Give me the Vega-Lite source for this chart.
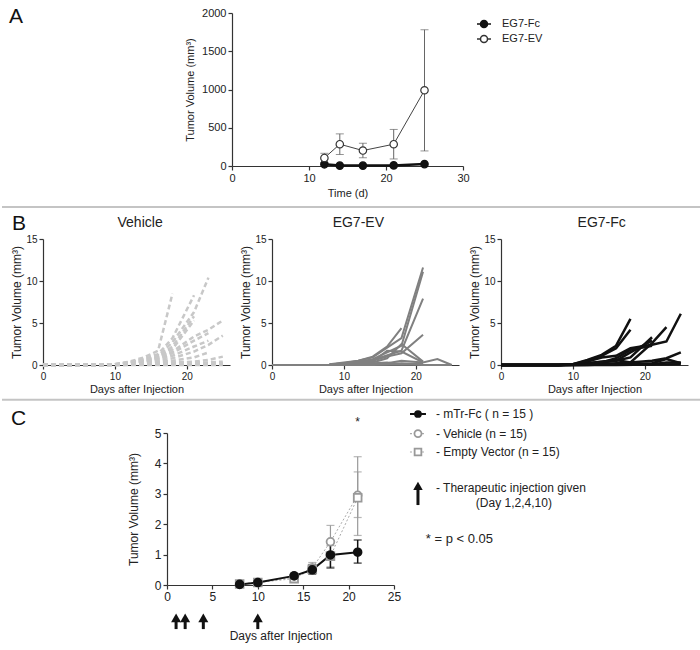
{
 "$schema": "https://vega.github.io/schema/vega-lite/v6.json",
 "padding": {"left": 0, "right": 0, "top": 6, "bottom": 2},
 "spacing": 4,
 "resolve": {"scale": {"fill": "independent", "stroke": "independent", "shape": "independent"}, "legend": {"fill": "independent", "stroke": "independent", "shape": "independent"}},
 "datasets": {
  "none": [],
  "a": [
   {"group":"EG7-Fc","day":12,"mean":22},{"group":"EG7-Fc","day":14,"mean":5},{"group":"EG7-Fc","day":17,"mean":5},{"group":"EG7-Fc","day":21,"mean":8},{"group":"EG7-Fc","day":25,"mean":25},
   {"group":"EG7-EV","day":12,"mean":105,"lo":45,"hi":166},{"group":"EG7-EV","day":14,"mean":285,"lo":150,"hi":420},{"group":"EG7-EV","day":17,"mean":202,"lo":108,"hi":298},{"group":"EG7-EV","day":21,"mean":285,"lo":92,"hi":478},{"group":"EG7-EV","day":25,"mean":990,"lo":197,"hi":1781}
  ],
  "veh": [
   {"m":"V1","day":0,"vol":0},{"m":"V1","day":8,"vol":0},{"m":"V1","day":10,"vol":0.1},{"m":"V1","day":12,"vol":0.4},{"m":"V1","day":14,"vol":0.9},{"m":"V1","day":16,"vol":1.7},{"m":"V1","day":18,"vol":8.5},
   {"m":"V2","day":0,"vol":0},{"m":"V2","day":8,"vol":0},{"m":"V2","day":10,"vol":0.1},{"m":"V2","day":12,"vol":0.3},{"m":"V2","day":14,"vol":0.7},{"m":"V2","day":16,"vol":1.3},{"m":"V2","day":18,"vol":3.2},{"m":"V2","day":21,"vol":8.3},
   {"m":"V3","day":0,"vol":0},{"m":"V3","day":8,"vol":0},{"m":"V3","day":10,"vol":0.1},{"m":"V3","day":12,"vol":0.3},{"m":"V3","day":14,"vol":0.6},{"m":"V3","day":16,"vol":1.1},{"m":"V3","day":18,"vol":2.7},{"m":"V3","day":21,"vol":6.3},{"m":"V3","day":23,"vol":10.4},
   {"m":"V4","day":0,"vol":0},{"m":"V4","day":8,"vol":0},{"m":"V4","day":10,"vol":0.05},{"m":"V4","day":12,"vol":0.25},{"m":"V4","day":14,"vol":0.55},{"m":"V4","day":16,"vol":1.0},{"m":"V4","day":18,"vol":2.2},{"m":"V4","day":21,"vol":5.8},
   {"m":"V5","day":0,"vol":0},{"m":"V5","day":8,"vol":0},{"m":"V5","day":10,"vol":0.05},{"m":"V5","day":12,"vol":0.2},{"m":"V5","day":14,"vol":0.45},{"m":"V5","day":16,"vol":0.9},{"m":"V5","day":18,"vol":1.9},{"m":"V5","day":21,"vol":5.3},
   {"m":"V6","day":0,"vol":0},{"m":"V6","day":8,"vol":0},{"m":"V6","day":10,"vol":0.05},{"m":"V6","day":12,"vol":0.2},{"m":"V6","day":14,"vol":0.4},{"m":"V6","day":16,"vol":0.8},{"m":"V6","day":18,"vol":1.6},{"m":"V6","day":21,"vol":3.4},{"m":"V6","day":23,"vol":4.2},{"m":"V6","day":25,"vol":5.3},
   {"m":"V7","day":0,"vol":0},{"m":"V7","day":8,"vol":0},{"m":"V7","day":10,"vol":0.05},{"m":"V7","day":12,"vol":0.15},{"m":"V7","day":14,"vol":0.35},{"m":"V7","day":16,"vol":0.7},{"m":"V7","day":18,"vol":1.4},{"m":"V7","day":21,"vol":2.9},{"m":"V7","day":23,"vol":3.8},
   {"m":"V8","day":0,"vol":0},{"m":"V8","day":8,"vol":0},{"m":"V8","day":10,"vol":0.05},{"m":"V8","day":12,"vol":0.15},{"m":"V8","day":14,"vol":0.3},{"m":"V8","day":16,"vol":0.6},{"m":"V8","day":18,"vol":1.1},{"m":"V8","day":21,"vol":2.2},{"m":"V8","day":23,"vol":2.9},
   {"m":"V9","day":0,"vol":0},{"m":"V9","day":8,"vol":0},{"m":"V9","day":10,"vol":0.02},{"m":"V9","day":12,"vol":0.1},{"m":"V9","day":14,"vol":0.25},{"m":"V9","day":16,"vol":0.4},{"m":"V9","day":18,"vol":0.8},{"m":"V9","day":21,"vol":1.6},{"m":"V9","day":23,"vol":2.4},{"m":"V9","day":25,"vol":3.5},
   {"m":"V10","day":0,"vol":0},{"m":"V10","day":8,"vol":0},{"m":"V10","day":10,"vol":0.02},{"m":"V10","day":12,"vol":0.1},{"m":"V10","day":14,"vol":0.2},{"m":"V10","day":16,"vol":0.3},{"m":"V10","day":18,"vol":0.5},{"m":"V10","day":21,"vol":0.9},{"m":"V10","day":23,"vol":1.5},
   {"m":"V11","day":0,"vol":0},{"m":"V11","day":8,"vol":0},{"m":"V11","day":10,"vol":0},{"m":"V11","day":12,"vol":0.05},{"m":"V11","day":14,"vol":0.1},{"m":"V11","day":16,"vol":0.2},{"m":"V11","day":18,"vol":0.3},{"m":"V11","day":21,"vol":0.4},{"m":"V11","day":23,"vol":0.6},{"m":"V11","day":25,"vol":1.0},
   {"m":"V12","day":0,"vol":0},{"m":"V12","day":8,"vol":0},{"m":"V12","day":10,"vol":0},{"m":"V12","day":12,"vol":0.05},{"m":"V12","day":14,"vol":0.1},{"m":"V12","day":16,"vol":0.15},{"m":"V12","day":18,"vol":0.2},{"m":"V12","day":21,"vol":0.3},{"m":"V12","day":23,"vol":0.3},{"m":"V12","day":25,"vol":0.4},
   {"m":"V13","day":0,"vol":0},{"m":"V13","day":10,"vol":0},{"m":"V13","day":14,"vol":0.05},{"m":"V13","day":16,"vol":0.1},{"m":"V13","day":18,"vol":0.1},{"m":"V13","day":21,"vol":0.2},{"m":"V13","day":25,"vol":0.2},
   {"m":"V14","day":0,"vol":0},{"m":"V14","day":16,"vol":0.05},{"m":"V14","day":21,"vol":0.1},{"m":"V14","day":25,"vol":0.1},
   {"m":"V15","day":0,"vol":0},{"m":"V15","day":25,"vol":0}
  ],
  "ev": [
   {"m":"E1","day":8,"vol":0.1},{"m":"E1","day":10,"vol":0.3},{"m":"E1","day":12,"vol":0.5},{"m":"E1","day":14,"vol":0.9},{"m":"E1","day":18,"vol":3.2},{"m":"E1","day":21,"vol":11.6},
   {"m":"E2","day":8,"vol":0.05},{"m":"E2","day":10,"vol":0.2},{"m":"E2","day":12,"vol":0.4},{"m":"E2","day":14,"vol":0.7},{"m":"E2","day":18,"vol":2.3},{"m":"E2","day":21,"vol":11.1},
   {"m":"E3","day":8,"vol":0.05},{"m":"E3","day":10,"vol":0.15},{"m":"E3","day":12,"vol":0.3},{"m":"E3","day":14,"vol":0.6},{"m":"E3","day":18,"vol":1.7},{"m":"E3","day":21,"vol":7.9},
   {"m":"E4","day":8,"vol":0.05},{"m":"E4","day":10,"vol":0.2},{"m":"E4","day":12,"vol":0.5},{"m":"E4","day":14,"vol":1.0},{"m":"E4","day":16,"vol":2.2},{"m":"E4","day":18,"vol":4.4},
   {"m":"E5","day":8,"vol":0},{"m":"E5","day":10,"vol":0.1},{"m":"E5","day":12,"vol":0.3},{"m":"E5","day":14,"vol":0.5},{"m":"E5","day":16,"vol":1.0},{"m":"E5","day":18,"vol":1.4},{"m":"E5","day":21,"vol":3.6},
   {"m":"E6","day":8,"vol":0},{"m":"E6","day":10,"vol":0.1},{"m":"E6","day":12,"vol":0.2},{"m":"E6","day":14,"vol":0.4},{"m":"E6","day":16,"vol":1.7},{"m":"E6","day":18,"vol":1.6},{"m":"E6","day":21,"vol":0.3},{"m":"E6","day":23,"vol":0.7},{"m":"E6","day":25,"vol":0},
   {"m":"E7","day":8,"vol":0},{"m":"E7","day":10,"vol":0.05},{"m":"E7","day":12,"vol":0.15},{"m":"E7","day":14,"vol":0.3},{"m":"E7","day":16,"vol":0.8},{"m":"E7","day":18,"vol":2.5},{"m":"E7","day":21,"vol":0.4},
   {"m":"E8","day":8,"vol":0},{"m":"E8","day":10,"vol":0.05},{"m":"E8","day":12,"vol":0.1},{"m":"E8","day":14,"vol":0.2},{"m":"E8","day":16,"vol":0.3},{"m":"E8","day":18,"vol":0.1},{"m":"E8","day":21,"vol":0.2},
   {"m":"E9","day":8,"vol":0},{"m":"E9","day":10,"vol":0.02},{"m":"E9","day":12,"vol":0.05},{"m":"E9","day":14,"vol":0.1},{"m":"E9","day":16,"vol":0.2},{"m":"E9","day":18,"vol":0.5},{"m":"E9","day":21,"vol":0.3},
   {"m":"E10","day":8,"vol":0},{"m":"E10","day":12,"vol":0.05},{"m":"E10","day":14,"vol":0.1},{"m":"E10","day":16,"vol":0.1},{"m":"E10","day":18,"vol":0.2},{"m":"E10","day":21,"vol":0.1},
   {"m":"E11","day":0,"vol":0},{"m":"E11","day":10,"vol":0},{"m":"E11","day":14,"vol":0},{"m":"E11","day":18,"vol":0.05},{"m":"E11","day":21,"vol":0},{"m":"E11","day":25,"vol":0}
  ],
  "fc": [
   {"m":"F1","day":0,"vol":0},{"m":"F1","day":8,"vol":0},{"m":"F1","day":10,"vol":0.1},{"m":"F1","day":12,"vol":0.6},{"m":"F1","day":14,"vol":1.2},{"m":"F1","day":16,"vol":2.3},{"m":"F1","day":18,"vol":5.5},
   {"m":"F2","day":0,"vol":0},{"m":"F2","day":8,"vol":0},{"m":"F2","day":10,"vol":0.1},{"m":"F2","day":12,"vol":0.5},{"m":"F2","day":14,"vol":1.1},{"m":"F2","day":16,"vol":2.0},{"m":"F2","day":18,"vol":4.2},
   {"m":"F3","day":0,"vol":0},{"m":"F3","day":8,"vol":0},{"m":"F3","day":10,"vol":0.1},{"m":"F3","day":12,"vol":0.4},{"m":"F3","day":14,"vol":0.9},{"m":"F3","day":16,"vol":1.1},{"m":"F3","day":18,"vol":2.0},{"m":"F3","day":21,"vol":2.4},{"m":"F3","day":23,"vol":2.8},{"m":"F3","day":25,"vol":6.1},
   {"m":"F4","day":0,"vol":0},{"m":"F4","day":8,"vol":0},{"m":"F4","day":10,"vol":0.05},{"m":"F4","day":12,"vol":0.2},{"m":"F4","day":14,"vol":0.4},{"m":"F4","day":16,"vol":0.6},{"m":"F4","day":18,"vol":0.3},{"m":"F4","day":21,"vol":2.6},{"m":"F4","day":23,"vol":4.5},
   {"m":"F5","day":0,"vol":0},{"m":"F5","day":8,"vol":0},{"m":"F5","day":10,"vol":0.05},{"m":"F5","day":12,"vol":0.2},{"m":"F5","day":14,"vol":0.4},{"m":"F5","day":16,"vol":0.5},{"m":"F5","day":18,"vol":0.9},{"m":"F5","day":21,"vol":3.3},
   {"m":"F6","day":0,"vol":0},{"m":"F6","day":8,"vol":0},{"m":"F6","day":10,"vol":0.02},{"m":"F6","day":12,"vol":0.15},{"m":"F6","day":14,"vol":0.3},{"m":"F6","day":16,"vol":0.5},{"m":"F6","day":18,"vol":1.5},{"m":"F6","day":21,"vol":2.9},
   {"m":"F7","day":0,"vol":0},{"m":"F7","day":8,"vol":0},{"m":"F7","day":10,"vol":0.02},{"m":"F7","day":12,"vol":0.1},{"m":"F7","day":14,"vol":0.3},{"m":"F7","day":16,"vol":0.8},{"m":"F7","day":18,"vol":1.8},{"m":"F7","day":21,"vol":2.3},
   {"m":"F8","day":0,"vol":0},{"m":"F8","day":8,"vol":0},{"m":"F8","day":12,"vol":0.05},{"m":"F8","day":14,"vol":0.1},{"m":"F8","day":16,"vol":0.2},{"m":"F8","day":18,"vol":0.3},{"m":"F8","day":21,"vol":0.5},{"m":"F8","day":23,"vol":0.8},{"m":"F8","day":25,"vol":1.5},
   {"m":"F9","day":0,"vol":0},{"m":"F9","day":12,"vol":0},{"m":"F9","day":14,"vol":0.05},{"m":"F9","day":16,"vol":0.1},{"m":"F9","day":18,"vol":0.1},{"m":"F9","day":21,"vol":0.2},{"m":"F9","day":23,"vol":0.7},{"m":"F9","day":25,"vol":0.2},
   {"m":"F10","day":0,"vol":0},{"m":"F10","day":10,"vol":0},{"m":"F10","day":14,"vol":0.05},{"m":"F10","day":18,"vol":0.1},{"m":"F10","day":21,"vol":0.1},{"m":"F10","day":23,"vol":0.3},{"m":"F10","day":25,"vol":0.3},
   {"m":"F11","day":0,"vol":0},{"m":"F11","day":16,"vol":0},{"m":"F11","day":21,"vol":0.05},{"m":"F11","day":25,"vol":0.1}
  ],
  "c": [
   {"group":"Vehicle","day":8,"mean":0.03,"lo":0.0,"hi":0.07},{"group":"Vehicle","day":10,"mean":0.09,"lo":0.04,"hi":0.14},{"group":"Vehicle","day":14,"mean":0.25,"lo":0.16,"hi":0.34},{"group":"Vehicle","day":16,"mean":0.56,"lo":0.38,"hi":0.74},{"group":"Vehicle","day":18,"mean":1.42,"lo":0.9,"hi":1.96},{"group":"Vehicle","day":21,"mean":2.95,"lo":1.63,"hi":4.22},
   {"group":"Empty Vector","day":8,"mean":0.03,"lo":0.0,"hi":0.06},{"group":"Empty Vector","day":10,"mean":0.08,"lo":0.04,"hi":0.12},{"group":"Empty Vector","day":14,"mean":0.21,"lo":0.14,"hi":0.28},{"group":"Empty Vector","day":16,"mean":0.52,"lo":0.38,"hi":0.68},{"group":"Empty Vector","day":18,"mean":0.95,"lo":0.6,"hi":1.3},{"group":"Empty Vector","day":21,"mean":2.87,"lo":2.22,"hi":3.72},
   {"group":"mTr-Fc","day":8,"mean":0.02,"lo":0.0,"hi":0.05},{"group":"mTr-Fc","day":10,"mean":0.08,"lo":0.04,"hi":0.12},{"group":"mTr-Fc","day":14,"mean":0.3,"lo":0.21,"hi":0.39},{"group":"mTr-Fc","day":16,"mean":0.5,"lo":0.36,"hi":0.66},{"group":"mTr-Fc","day":18,"mean":0.99,"lo":0.56,"hi":1.42},{"group":"mTr-Fc","day":21,"mean":1.08,"lo":0.72,"hi":1.48}
  ],
  "inj": [{"day":1},{"day":2},{"day":4},{"day":10}]
 },
 "vconcat": [
  {"hconcat": [
   {"width": 1, "height": 1, "data": {"name": "none"}, "mark": {"type": "point", "opacity": 0}},
   {
    "width": 231, "height": 153,
    "layer": [
     {"data":{"values":[{"s":"sep"}]},"mark":{"type":"rule","color":"#c4c4c4","strokeWidth":2},
      "encoding":{"x":{"datum":-29.87,"type":"quantitative","title":"Time (d)","scale":{"domain":[0,30],"nice":false},"axis":{"values":[0,10,20,30],"titlePadding":4}},"x2":{"datum":60.9},
       "y":{"datum":-536,"type":"quantitative","title":"Tumor Volume (mm³)","scale":{"domain":[0,2000],"nice":false},"axis":{"values":[0,500,1000,1500,2000],"format":"d","titlePadding":6}}}},
     {"data":{"values":[{"t":"A"}]},"mark":{"type":"text","fontSize":21,"align":"left","baseline":"alphabetic","color":"#111"},
      "encoding":{"x":{"datum":-28.96,"type":"quantitative","title":"Time (d)","scale":{"domain":[0,30],"nice":false},"axis":{"values":[0,10,20,30],"titlePadding":4}},
       "y":{"datum":1869,"type":"quantitative","title":"Tumor Volume (mm³)","scale":{"domain":[0,2000],"nice":false},"axis":{"values":[0,500,1000,1500,2000],"format":"d","titlePadding":6}},"text":{"field":"t"}}},
     {"data":{"name":"a"},"transform":[{"filter":"datum.group === 'EG7-EV'"}],"mark":{"type":"errorbar","color":"#666","thickness":1,"ticks":{"size":8}},
      "encoding":{"x":{"field":"day","type":"quantitative","title":"Time (d)","scale":{"domain":[0,30],"nice":false},"axis":{"values":[0,10,20,30],"titlePadding":4}},
       "y":{"field":"lo","type":"quantitative","title":"Tumor Volume (mm³)","scale":{"domain":[0,2000],"nice":false},"axis":{"values":[0,500,1000,1500,2000],"format":"d","titlePadding":6}},"y2":{"field":"hi"}}},
     {"data":{"name":"a"},"transform":[{"filter":"datum.group === 'EG7-EV'"}],"mark":{"type":"line","color":"#444","strokeWidth":1},
      "encoding":{"x":{"field":"day","type":"quantitative","title":"Time (d)","scale":{"domain":[0,30],"nice":false},"axis":{"values":[0,10,20,30],"titlePadding":4}},
       "y":{"field":"mean","type":"quantitative","title":"Tumor Volume (mm³)","scale":{"domain":[0,2000],"nice":false},"axis":{"values":[0,500,1000,1500,2000],"format":"d","titlePadding":6}}}},
     {"data":{"name":"a"},"transform":[{"filter":"datum.group === 'EG7-Fc'"}],"mark":{"type":"line","color":"#111","strokeWidth":2.5},
      "encoding":{"x":{"field":"day","type":"quantitative","title":"Time (d)","scale":{"domain":[0,30],"nice":false},"axis":{"values":[0,10,20,30],"titlePadding":4}},
       "y":{"field":"mean","type":"quantitative","title":"Tumor Volume (mm³)","scale":{"domain":[0,2000],"nice":false},"axis":{"values":[0,500,1000,1500,2000],"format":"d","titlePadding":6}}}},
     {"data":{"name":"a"},"mark":{"type":"point","filled":true,"opacity":1,"strokeWidth":1.2,"size":55},
      "encoding":{
       "x":{"field":"day","type":"quantitative","title":"Time (d)","scale":{"domain":[0,30],"nice":false},"axis":{"values":[0,10,20,30],"titlePadding":4}},
       "y":{"field":"mean","type":"quantitative","title":"Tumor Volume (mm³)","scale":{"domain":[0,2000],"nice":false},"axis":{"values":[0,500,1000,1500,2000],"format":"d","titlePadding":6}},
       "stroke":{"field":"group","type":"nominal","scale":{"domain":["EG7-Fc","EG7-EV"],"range":["#111","#333"]},"legend":null},
       "fill":{"field":"group","type":"nominal","scale":{"domain":["EG7-Fc","EG7-EV"],"range":["#111","#ffffff"]},
        "legend":{"title":null,"orient":"none","legendX":476,"legendY":3,"symbolSize":196,"labelOffset":10,"rowPadding":-2,"labelFontSize":11,
         "symbolType":"M-1,0H-0.5M0.5,0A0.5,0.5,0,1,1,-0.5,0A0.5,0.5,0,1,1,0.5,0ZM0.5,0H1",
         "encode":{"symbols":{"update":{
          "stroke":{"signal":"datum.value === 'EG7-Fc' ? '#111' : '#333'"},
          "strokeWidth":{"signal":"datum.value === 'EG7-Fc' ? 2 : 1"},
          "fill":{"signal":"datum.value === 'EG7-Fc' ? '#111' : '#ffffff'"},
          "opacity":{"value":1}}}}}}
      }}
    ]
   }
  ], "spacing": 0},
  {"hconcat": [
   {"width": 1, "height": 1, "data": {"name": "none"}, "mark": {"type": "point", "opacity": 0}},
   {
    "width": 187, "height": 126,
    "layer": [
     {"data":{"name":"veh"},"mark":{"type":"line","color":"#c8c8c8","strokeWidth":2.5,"strokeDash":[5,3]},
      "encoding":{
       "x": {"field":"day","type":"quantitative","title":"Days after Injection","scale":{"domain":[0,26],"nice":false},"axis":{"values":[0,10,20],"titlePadding":2,"labelFontSize":10}},
       "y": {"field":"vol","type":"quantitative","title":"Tumor Volume (mm³)","scale":{"domain":[0,15],"nice":false},"axis":{"values":[0,5,10,15],"titleFontSize":12,"titlePadding":2,"labelFontSize":10}},
       "detail":{"field":"m","type":"nominal"}}},
     {"data":{"values":[{"t":"Vehicle"}]},"mark":{"type":"text","fontSize":14,"align":"center","baseline":"middle","color":"#222"},
      "encoding":{"x":{"datum":13.5,"type":"quantitative","title":"Days after Injection","scale":{"domain":[0,26],"nice":false},"axis":{"values":[0,10,20],"titlePadding":2,"labelFontSize":10}},
       "y":{"datum":16.9,"type":"quantitative","title":"Tumor Volume (mm³)","scale":{"domain":[0,15],"nice":false},"axis":{"values":[0,5,10,15],"titleFontSize":12,"titlePadding":2,"labelFontSize":10}},"text":{"field":"t"}}},
     {"data":{"values":[{"t":"B"}]},"mark":{"type":"text","fontSize":21,"align":"left","baseline":"alphabetic","color":"#111"},
      "encoding":{"x":{"datum":-4.3,"type":"quantitative","title":"Days after Injection","scale":{"domain":[0,26],"nice":false},"axis":{"values":[0,10,20],"titlePadding":2,"labelFontSize":10}},
       "y":{"datum":16.07,"type":"quantitative","title":"Tumor Volume (mm³)","scale":{"domain":[0,15],"nice":false},"axis":{"values":[0,5,10,15],"titleFontSize":12,"titlePadding":2,"labelFontSize":10}},"text":{"field":"t"}}}
    ]
   },
   {
    "width": 187, "height": 126,
    "layer": [
     {"data":{"name":"ev"},"mark":{"type":"line","color":"#808080","strokeWidth":2},
      "encoding":{
       "x": {"field":"day","type":"quantitative","title":"Days after Injection","scale":{"domain":[0,26],"nice":false},"axis":{"values":[0,10,20],"titlePadding":2,"labelFontSize":10}},
       "y": {"field":"vol","type":"quantitative","title":"Tumor Volume (mm³)","scale":{"domain":[0,15],"nice":false},"axis":{"values":[0,5,10,15],"titleFontSize":12,"titlePadding":2,"labelFontSize":10}},
       "detail":{"field":"m","type":"nominal"}}},
     {"data":{"values":[{"t":"EG7-EV"}]},"mark":{"type":"text","fontSize":14,"align":"center","baseline":"middle","color":"#222"},
      "encoding":{"x":{"datum":12,"type":"quantitative","title":"Days after Injection","scale":{"domain":[0,26],"nice":false},"axis":{"values":[0,10,20],"titlePadding":2,"labelFontSize":10}},
       "y":{"datum":16.9,"type":"quantitative","title":"Tumor Volume (mm³)","scale":{"domain":[0,15],"nice":false},"axis":{"values":[0,5,10,15],"titleFontSize":12,"titlePadding":2,"labelFontSize":10}},"text":{"field":"t"}}}
    ]
   },
   {
    "width": 187, "height": 126,
    "layer": [
     {"data":{"name":"fc"},"mark":{"type":"line","color":"#111","strokeWidth":2.5},
      "encoding":{
       "x": {"field":"day","type":"quantitative","title":"Days after Injection","scale":{"domain":[0,26],"nice":false},"axis":{"values":[0,10,20],"titlePadding":2,"labelFontSize":10}},
       "y": {"field":"vol","type":"quantitative","title":"Tumor Volume (mm³)","scale":{"domain":[0,15],"nice":false},"axis":{"values":[0,5,10,15],"titleFontSize":12,"titlePadding":2,"labelFontSize":10}},
       "detail":{"field":"m","type":"nominal"}}},
     {"data":{"values":[{"t":"EG7-Fc"}]},"mark":{"type":"text","fontSize":14,"align":"center","baseline":"middle","color":"#222"},
      "encoding":{"x":{"datum":14,"type":"quantitative","title":"Days after Injection","scale":{"domain":[0,26],"nice":false},"axis":{"values":[0,10,20],"titlePadding":2,"labelFontSize":10}},
       "y":{"datum":16.9,"type":"quantitative","title":"Tumor Volume (mm³)","scale":{"domain":[0,15],"nice":false},"axis":{"values":[0,5,10,15],"titleFontSize":12,"titlePadding":2,"labelFontSize":10}},"text":{"field":"t"}}}
    ]
   }
  ], "spacing": 9},
  {"hconcat": [
   {"width": 1, "height": 1, "data": {"name": "none"}, "mark": {"type": "point", "opacity": 0}},
   {
    "width": 227, "height": 152,
    "layer": [
     {"data":{"values":[{"s":"sep"}]},"mark":{"type":"rule","color":"#c4c4c4","strokeWidth":2},
      "encoding":{"x":{"datum":-18.17,"type":"quantitative","title":"Days after Injection","scale":{"domain":[0,25],"nice":false},"axis":{"values":[0,5,10,15,20,25],"titleFontSize":12,"labelFontSize":12,"titlePadding":28}},"x2":{"datum":58.8},
       "y":{"datum":6.09,"type":"quantitative","title":"Tumor Volume (mm³)","scale":{"domain":[0,5],"nice":false},"axis":{"values":[0,1,2,3,4,5],"titleFontSize":12,"labelFontSize":12,"titlePadding":14}}}},
     {"data":{"values":[{"t":"C"}]},"mark":{"type":"text","fontSize":21,"align":"left","baseline":"alphabetic","color":"#111"},
      "encoding":{"x":{"datum":-17.18,"type":"quantitative","title":"Days after Injection","scale":{"domain":[0,25],"nice":false},"axis":{"values":[0,5,10,15,20,25],"titleFontSize":12,"labelFontSize":12,"titlePadding":28}},
       "y":{"datum":5.26,"type":"quantitative","title":"Tumor Volume (mm³)","scale":{"domain":[0,5],"nice":false},"axis":{"values":[0,1,2,3,4,5],"titleFontSize":12,"labelFontSize":12,"titlePadding":14}},"text":{"field":"t"}}},
     {"data":{"name":"c"},"transform":[{"filter":"datum.group !== 'mTr-Fc'"}],"mark":{"type":"errorbar","color":"#999","thickness":1.2,"ticks":{"size":8}},
      "encoding":{
       "x":{"field":"day","type":"quantitative","title":"Days after Injection","scale":{"domain":[0,25],"nice":false},"axis":{"values":[0,5,10,15,20,25],"titleFontSize":12,"labelFontSize":12,"titlePadding":28}},
       "y":{"field":"lo","type":"quantitative","title":"Tumor Volume (mm³)","scale":{"domain":[0,5],"nice":false},"axis":{"values":[0,1,2,3,4,5],"titleFontSize":12,"labelFontSize":12,"titlePadding":14}},
       "y2":{"field":"hi"},"detail":{"field":"group","type":"nominal"}}},
     {"data":{"name":"c"},"transform":[{"filter":"datum.group !== 'mTr-Fc'"}],"mark":{"type":"line","color":"#aaa","strokeWidth":1,"strokeDash":[2,2]},
      "encoding":{
       "x":{"field":"day","type":"quantitative","title":"Days after Injection","scale":{"domain":[0,25],"nice":false},"axis":{"values":[0,5,10,15,20,25],"titleFontSize":12,"labelFontSize":12,"titlePadding":28}},
       "y":{"field":"mean","type":"quantitative","title":"Tumor Volume (mm³)","scale":{"domain":[0,5],"nice":false},"axis":{"values":[0,1,2,3,4,5],"titleFontSize":12,"labelFontSize":12,"titlePadding":14}},
       "detail":{"field":"group","type":"nominal"}}},
     {"data":{"name":"c"},"transform":[{"filter":"datum.group === 'mTr-Fc'"}],"mark":{"type":"errorbar","color":"#111","thickness":1.5,"ticks":{"size":8}},
      "encoding":{
       "x":{"field":"day","type":"quantitative","title":"Days after Injection","scale":{"domain":[0,25],"nice":false},"axis":{"values":[0,5,10,15,20,25],"titleFontSize":12,"labelFontSize":12,"titlePadding":28}},
       "y":{"field":"lo","type":"quantitative","title":"Tumor Volume (mm³)","scale":{"domain":[0,5],"nice":false},"axis":{"values":[0,1,2,3,4,5],"titleFontSize":12,"labelFontSize":12,"titlePadding":14}},
       "y2":{"field":"hi"}}},
     {"data":{"name":"c"},"transform":[{"filter":"datum.group === 'mTr-Fc'"}],"mark":{"type":"line","color":"#111","strokeWidth":2},
      "encoding":{
       "x":{"field":"day","type":"quantitative","title":"Days after Injection","scale":{"domain":[0,25],"nice":false},"axis":{"values":[0,5,10,15,20,25],"titleFontSize":12,"labelFontSize":12,"titlePadding":28}},
       "y":{"field":"mean","type":"quantitative","title":"Tumor Volume (mm³)","scale":{"domain":[0,5],"nice":false},"axis":{"values":[0,1,2,3,4,5],"titleFontSize":12,"labelFontSize":12,"titlePadding":14}}}},
     {"data":{"name":"c"},"mark":{"type":"point","filled":true,"opacity":1,"strokeWidth":1.8,"size":60},
      "encoding":{
       "x":{"field":"day","type":"quantitative","title":"Days after Injection","scale":{"domain":[0,25],"nice":false},"axis":{"values":[0,5,10,15,20,25],"titleFontSize":12,"labelFontSize":12,"titlePadding":28}},
       "y":{"field":"mean","type":"quantitative","title":"Tumor Volume (mm³)","scale":{"domain":[0,5],"nice":false},"axis":{"values":[0,1,2,3,4,5],"titleFontSize":12,"labelFontSize":12,"titlePadding":14}},
       "shape":{"field":"group","type":"nominal","scale":{"domain":["mTr-Fc","Vehicle","Empty Vector"],"range":["circle","circle","square"]},"legend":null},
       "stroke":{"field":"group","type":"nominal","scale":{"domain":["mTr-Fc","Vehicle","Empty Vector"],"range":["#111","#999","#999"]},"legend":null},
       "fill":{"field":"group","type":"nominal","scale":{"domain":["mTr-Fc","Vehicle","Empty Vector"],"range":["#111","#ffffff","#ffffff"]},"legend":null}
      }},
     {"data":{"values":[{"label":"- mTr-Fc ( n = 15 )"}]},
      "encoding":{"y":{"datum":5.625,"type":"quantitative","title":"Tumor Volume (mm³)","scale":{"domain":[0,5],"nice":false},"axis":{"values":[0,1,2,3,4,5],"titleFontSize":12,"labelFontSize":12,"titlePadding":14}},
       "x":{"datum":26.76,"type":"quantitative","title":"Days after Injection","scale":{"domain":[0,25],"nice":false},"axis":{"values":[0,5,10,15,20,25],"titleFontSize":12,"labelFontSize":12,"titlePadding":28}}},
      "layer":[
       {"mark":{"type":"rule","color":"#111","strokeWidth":2},"encoding":{"x2":{"datum":28.52}}},
       {"mark":{"type":"point","shape":"circle","filled":true,"opacity":1,"color":"#111","size":60,"xOffset":8}},
       {"mark":{"type":"text","fontSize":12,"align":"left","baseline":"middle","color":"#222","dx":26},"encoding":{"text":{"field":"label"}}}
      ]},
     {"data":{"values":[{"label":"- Vehicle (n = 15)"}]},
      "encoding":{"y":{"datum":4.98,"type":"quantitative","title":"Tumor Volume (mm³)","scale":{"domain":[0,5],"nice":false},"axis":{"values":[0,1,2,3,4,5],"titleFontSize":12,"labelFontSize":12,"titlePadding":14}},
       "x":{"datum":26.76,"type":"quantitative","title":"Days after Injection","scale":{"domain":[0,25],"nice":false},"axis":{"values":[0,5,10,15,20,25],"titleFontSize":12,"labelFontSize":12,"titlePadding":28}}},
      "layer":[
       {"mark":{"type":"rule","color":"#aaa","strokeWidth":1.2,"strokeDash":[2,2]},"encoding":{"x2":{"datum":28.52}}},
       {"mark":{"type":"point","shape":"circle","filled":true,"opacity":1,"fill":"#ffffff","stroke":"#999","strokeWidth":1.8,"size":50,"xOffset":8}},
       {"mark":{"type":"text","fontSize":12,"align":"left","baseline":"middle","color":"#222","dx":26},"encoding":{"text":{"field":"label"}}}
      ]},
     {"data":{"values":[{"label":"- Empty Vector (n = 15)"}]},
      "encoding":{"y":{"datum":4.375,"type":"quantitative","title":"Tumor Volume (mm³)","scale":{"domain":[0,5],"nice":false},"axis":{"values":[0,1,2,3,4,5],"titleFontSize":12,"labelFontSize":12,"titlePadding":14}},
       "x":{"datum":26.76,"type":"quantitative","title":"Days after Injection","scale":{"domain":[0,25],"nice":false},"axis":{"values":[0,5,10,15,20,25],"titleFontSize":12,"labelFontSize":12,"titlePadding":28}}},
      "layer":[
       {"mark":{"type":"rule","color":"#aaa","strokeWidth":1.2,"strokeDash":[2,2]},"encoding":{"x2":{"datum":28.52}}},
       {"mark":{"type":"point","shape":"square","filled":true,"opacity":1,"fill":"#ffffff","stroke":"#999","strokeWidth":1.8,"size":45,"xOffset":8}},
       {"mark":{"type":"text","fontSize":12,"align":"left","baseline":"middle","color":"#222","dx":26},"encoding":{"text":{"field":"label"}}}
      ]},
     {"data":{"name":"inj"},
      "encoding":{"x":{"field":"day","type":"quantitative","title":"Days after Injection","scale":{"domain":[0,25],"nice":false},"axis":{"values":[0,5,10,15,20,25],"titleFontSize":12,"labelFontSize":12,"titlePadding":28}}},
      "layer":[
       {"mark":{"type":"rule","color":"#111","strokeWidth":3},"encoding":{"y":{"datum":-1.45,"type":"quantitative","title":"Tumor Volume (mm³)","scale":{"domain":[0,5],"nice":false},"axis":{"values":[0,1,2,3,4,5],"titleFontSize":12,"labelFontSize":12,"titlePadding":14}},"y2":{"datum":-1.1}}},
       {"mark":{"type":"point","shape":"triangle-up","filled":true,"opacity":1,"color":"#111","size":100},"encoding":{"y":{"datum":-1.08,"type":"quantitative","title":"Tumor Volume (mm³)","scale":{"domain":[0,5],"nice":false},"axis":{"values":[0,1,2,3,4,5],"titleFontSize":12,"labelFontSize":12,"titlePadding":14}}}}
      ]},
     {"data":{"values":[{"t":"- Therapeutic injection given"}]},
      "encoding":{"x":{"datum":27.64,"type":"quantitative","title":"Days after Injection","scale":{"domain":[0,25],"nice":false},"axis":{"values":[0,5,10,15,20,25],"titleFontSize":12,"labelFontSize":12,"titlePadding":28}}},
      "layer":[
       {"mark":{"type":"rule","color":"#111","strokeWidth":3},"encoding":{"y":{"datum":2.63,"type":"quantitative","title":"Tumor Volume (mm³)","scale":{"domain":[0,5],"nice":false},"axis":{"values":[0,1,2,3,4,5],"titleFontSize":12,"labelFontSize":12,"titlePadding":14}},"y2":{"datum":3.22}}},
       {"mark":{"type":"point","shape":"triangle-up","filled":true,"opacity":1,"color":"#111","size":90},"encoding":{"y":{"datum":3.26,"type":"quantitative","title":"Tumor Volume (mm³)","scale":{"domain":[0,5],"nice":false},"axis":{"values":[0,1,2,3,4,5],"titleFontSize":12,"labelFontSize":12,"titlePadding":14}}}},
       {"mark":{"type":"text","fontSize":12,"align":"left","baseline":"middle","color":"#222","dx":18},"encoding":{"y":{"datum":3.19,"type":"quantitative","title":"Tumor Volume (mm³)","scale":{"domain":[0,5],"nice":false},"axis":{"values":[0,1,2,3,4,5],"titleFontSize":12,"labelFontSize":12,"titlePadding":14}},"text":{"field":"t"}}}
      ]},
     {"data":{"values":[{"t":"(Day 1,2,4,10)"}]},"mark":{"type":"text","fontSize":12,"align":"center","baseline":"middle","color":"#222"},
      "encoding":{"x":{"datum":38.2,"type":"quantitative","title":"Days after Injection","scale":{"domain":[0,25],"nice":false},"axis":{"values":[0,5,10,15,20,25],"titleFontSize":12,"labelFontSize":12,"titlePadding":28}},
       "y":{"datum":2.7,"type":"quantitative","title":"Tumor Volume (mm³)","scale":{"domain":[0,5],"nice":false},"axis":{"values":[0,1,2,3,4,5],"titleFontSize":12,"labelFontSize":12,"titlePadding":14}},"text":{"field":"t"}}},
     {"data":{"values":[{"t":"* = p < 0.05"}]},"mark":{"type":"text","fontSize":13,"align":"left","baseline":"middle","color":"#222"},
      "encoding":{"x":{"datum":28.5,"type":"quantitative","title":"Days after Injection","scale":{"domain":[0,25],"nice":false},"axis":{"values":[0,5,10,15,20,25],"titleFontSize":12,"labelFontSize":12,"titlePadding":28}},
       "y":{"datum":1.51,"type":"quantitative","title":"Tumor Volume (mm³)","scale":{"domain":[0,5],"nice":false},"axis":{"values":[0,1,2,3,4,5],"titleFontSize":12,"labelFontSize":12,"titlePadding":14}},"text":{"field":"t"}}},
     {"data":{"values":[{"t":"*"}]},"mark":{"type":"text","fontSize":12,"align":"center","baseline":"middle","color":"#222"},
      "encoding":{"x":{"datum":21,"type":"quantitative","title":"Days after Injection","scale":{"domain":[0,25],"nice":false},"axis":{"values":[0,5,10,15,20,25],"titleFontSize":12,"labelFontSize":12,"titlePadding":28}},
       "y":{"datum":5.36,"type":"quantitative","title":"Tumor Volume (mm³)","scale":{"domain":[0,5],"nice":false},"axis":{"values":[0,1,2,3,4,5],"titleFontSize":12,"labelFontSize":12,"titlePadding":14}},"text":{"field":"t"}}}
    ]
   }
  ], "spacing": 0}
 ],
 "config": {
  "font": "Liberation Sans",
  "view": {"stroke": null},
  "axis": {"grid": false, "domainColor": "#333", "tickColor": "#333", "labelColor": "#222", "titleColor": "#222", "labelFontSize": 11, "titleFontSize": 11, "titleFontWeight": "normal", "tickSize": 4, "labelPadding": 2, "domainWidth": 1.2, "tickWidth": 1.2, "labelFlush": false, "labelOverlap": false},
  "title": {"fontWeight": "normal", "fontSize": 14, "color": "#222"},
  "legend": {"labelColor": "#222", "padding": 0, "labelFontSize": 11}
 }
}
